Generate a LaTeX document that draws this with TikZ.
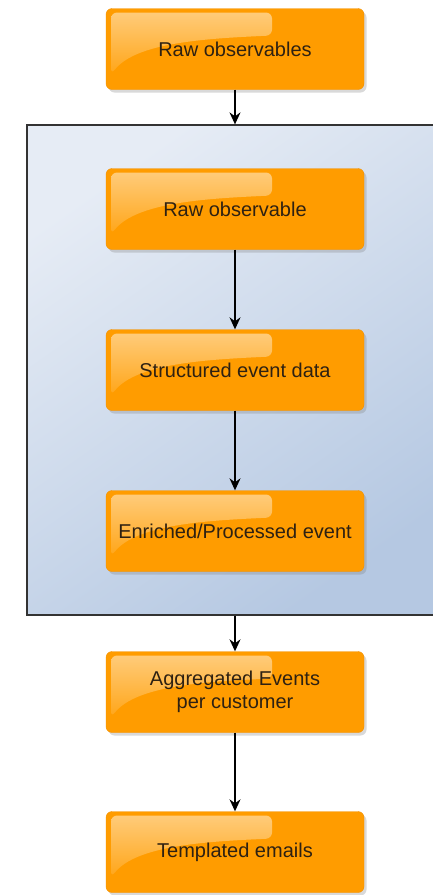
\documentclass[tikz,border=0pt]{standalone}
\usepackage{fontspec}
\setmainfont{Liberation Sans}
\usetikzlibrary{arrows.meta,shadows}

\definecolor{boxorange}{HTML}{FF9C00}
\definecolor{boxedge}{HTML}{F29000}
\definecolor{boxtext}{HTML}{2E2112}
\definecolor{paneltop}{HTML}{E6ECF5}
\definecolor{panelbottom}{HTML}{B5C8E2}

\tikzset{
  stage/.style={draw=boxedge, fill=boxorange, rounded corners=6pt,
    minimum width=258pt, minimum height=81pt, text=boxtext, align=center,
    font=\fontsize{20}{23}\selectfont,
    drop shadow={shadow xshift=2.5pt, shadow yshift=-3pt, opacity=.3},
    path picture={
      % glossy highlight in the upper left
      \fill[top color=white!50!boxorange, bottom color=boxorange, rounded corners=6pt]
        ([shift={(5pt,-4pt)}]path picture bounding box.north west)
        -- ([shift={(166pt,-4pt)}]path picture bounding box.north west)
        -- ([shift={(166pt,-27pt)}]path picture bounding box.north west)
        .. controls ([shift={(100pt,-30pt)}]path picture bounding box.north west)
        and ([shift={(30pt,-34pt)}]path picture bounding box.north west)
        .. ([shift={(5pt,-66pt)}]path picture bounding box.north west) -- cycle;
    }},
  panel/.style={draw=black!80, line width=1.3pt, minimum width=418pt, minimum height=490pt,
    top color=paneltop, bottom color=panelbottom, shading angle=35},
  flow/.style={-{Stealth[length=12pt,width=11pt,inset=4pt]}, line width=1.4pt, black},
}

\begin{document}
\begin{tikzpicture}[x=1pt,y=-1pt]
  \useasboundingbox (0,0) rectangle (433,895);
  \clip (0,0) rectangle (433,895);

  \node[panel] (pipeline) at (236,370) {};

  \node[stage] (obs) at (235,49) {Raw observables};
  \node[stage] (raw) at (235,209) {Raw observable};
  \node[stage] (struct) at (235,370) {Structured event data};
  \node[stage] (enrich) at (235,531) {Enriched/Processed event};
  \node[stage] (aggr) at (235,692) {Aggregated Events\\per customer};
  \node[stage] (mail) at (235,852) {Templated emails};

  \draw[flow] (obs) -- (obs |- pipeline.north);
  \draw[flow] (raw) -- (struct);
  \draw[flow] (struct) -- (enrich);
  \draw[flow] (aggr.north |- pipeline.south) -- (aggr);
  \draw[flow] (aggr) -- (mail);
\end{tikzpicture}
\end{document}
